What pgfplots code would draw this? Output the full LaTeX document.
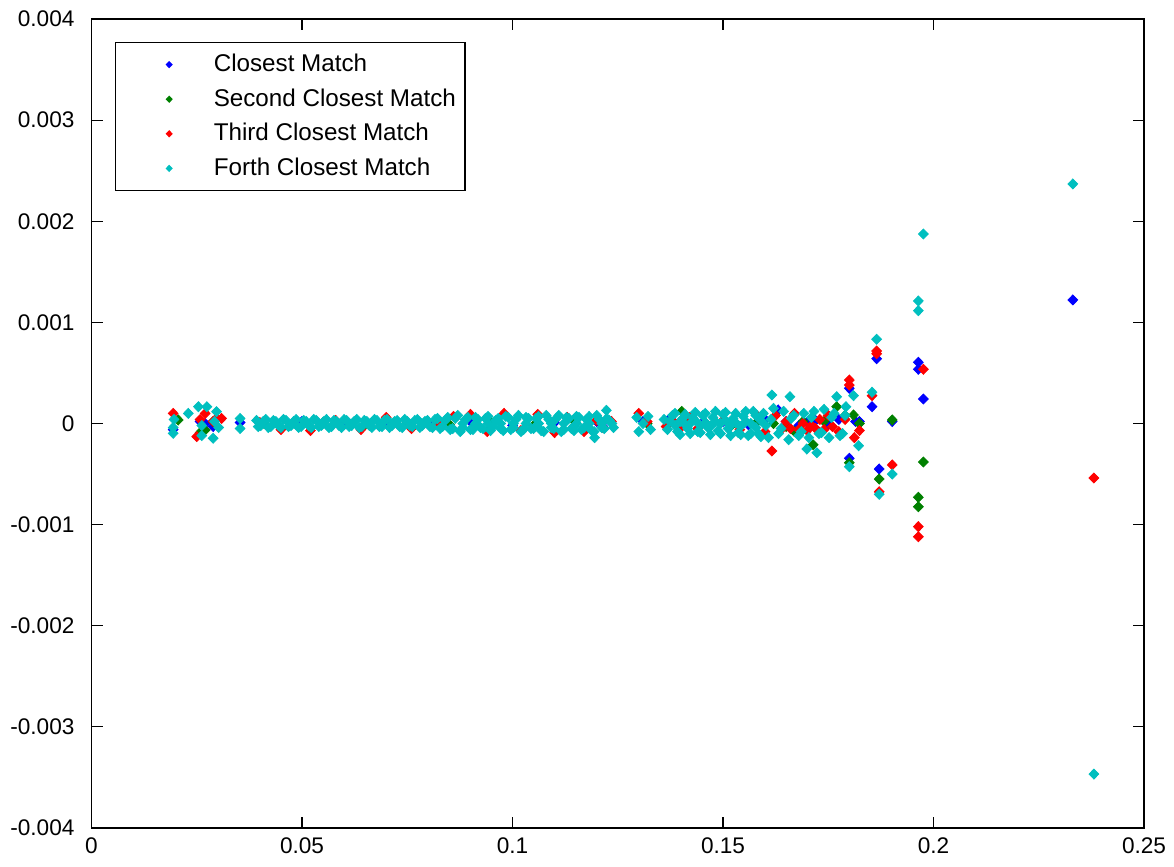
\documentclass[border=0pt]{standalone}
\usepackage{pgfplots}
\pgfplotsset{compat=1.18}
\usepackage{fontspec}
\setmainfont{Liberation Sans}
\definecolor{mblue}{rgb}{0,0,1}
\definecolor{mgreen}{rgb}{0,0.5,0}
\definecolor{mred}{rgb}{1,0,0}
\definecolor{mcyan}{rgb}{0,0.75,0.75}

\begin{document}
\begin{tikzpicture}
\useasboundingbox (-45.75pt,-19.5pt) rectangle (541.25pt,414pt);
\begin{axis}[
  at={(0,0)}, anchor=south west,
  width=526.25pt, height=404.5pt, scale only axis,
  xmin=0, xmax=0.25, ymin=-0.004, ymax=0.004,
  xtick={0,0.05,0.1,0.15,0.2,0.25},
  xticklabels={0,0.05,0.1,0.15,0.2,0.25},
  ytick={-0.004,-0.003,-0.002,-0.001,0,0.001,0.002,0.003,0.004},
  yticklabels={-0.004,-0.003,-0.002,-0.001,0,0.001,0.002,0.003,0.004},
  scaled ticks=false,
  /pgf/number format/assume math mode=true,
  tick align=inside, major tick length=5.5pt,
  axis line style={line width=0.6pt},
  every tick/.style={black, line width=0.6pt},
  ticklabel style={font=\fontsize{11.3}{13}\selectfont},
  xticklabel style={yshift=-1.5pt},
  yticklabel style={xshift=-5pt},
  every axis plot/.append style={only marks, mark=diamond*, mark size=2.5pt, mark options={xscale=1.3}},
  legend style={at={(axis description cs:0,1)}, anchor=north west,
    xshift=11.75pt, yshift=-11.5pt, draw=black, line width=0.6pt,
    inner xsep=4.5pt, inner ysep=5.5pt, row sep=6.3pt,
    font=\fontsize{12.1}{14}\selectfont,
    nodes={inner sep=0pt, text height=9pt, text depth=2pt, anchor=west}},
  legend cell align=left,
  legend image code/.code={\path (0pt,0pt) (44pt,0pt); \draw[#1, mark size=1.4pt] plot coordinates {(22pt,0pt)};},
]

% Closest Match
\addplot[color=mblue] coordinates {
(0.0194,-0.00006) (0.0258,0.00002) (0.0270,0.00000) (0.0289,-0.00003) (0.0353,0.00001)
(0.0400,0.00000) (0.0500,0.00002) (0.0600,-0.00001) (0.0700,0.00001) (0.0800,0.00000)
(0.0900,0.00002) (0.1000,-0.00002) (0.1100,0.00001) (0.1200,0.00002) (0.1215,-0.00003)
(0.1310,0.00002) (0.1370,0.000035) (0.1450,0.00000) (0.1500,0.00002) (0.1560,-0.00001)
(0.1600,0.00004) (0.1631,0.000134) (0.1650,0.00002) (0.1680,-0.00002) (0.1700,0.00001)
(0.1720,0.00003) (0.1750,-0.00001) (0.1775,0.00004) (0.1800,0.000348) (0.1800,-0.000344)
(0.1815,0.00002) (0.1824,0.00002)
(0.1854,0.000166) (0.1865,0.000641) (0.1871,-0.00045) (0.1902,0.00002)
(0.1964,0.000605) (0.1964,0.000536) (0.1976,0.000242) (0.2331,0.001222)
};
\addlegendentry{Closest Match}

% Second Closest Match
\addplot[color=mgreen] coordinates {
(0.0206,0.000035) (0.0270,-0.000064) (0.0289,0.00002) (0.0258,-0.00009)
(0.0410,0.00000) (0.0550,0.00001) (0.0650,-0.00001) (0.0750,0.00001) (0.0850,-0.00001)
(0.0950,0.00001) (0.1050,-0.00002) (0.1150,0.00001) (0.1210,0.00001)
(0.1320,0.00000) (0.1402,0.00012) (0.1420,0.00004) (0.1460,0.00000) (0.1520,-0.00002)
(0.1580,0.00001) (0.1620,0.00000) (0.1650,-0.00003) (0.1670,-0.00008) (0.1690,0.00002)
(0.1714,-0.00021) (0.1740,0.00002) (0.1770,0.000166) (0.1790,0.00008) (0.1800,-0.000388)
(0.1810,0.000084) (0.1824,0.00000)
(0.1871,-0.000549) (0.1902,0.000035) (0.1964,-0.00073) (0.1964,-0.000823) (0.1976,-0.000381)
};
\addlegendentry{Second Closest Match}

% Third Closest Match
\addplot[color=mred] coordinates {
(0.0194,0.0001) (0.0250,-0.00013) (0.0270,0.0001) (0.0297,0.00005) (0.0309,0.00005)
(0.0258,0.00004) (0.0289,0.00002)
(0.0400,0.00001) (0.0450,-0.00006) (0.0520,-0.00007) (0.0580,0.00003) (0.0640,-0.00006)
(0.0700,0.00006) (0.0760,-0.00005) (0.0820,0.00002) (0.0860,0.00007) (0.0900,0.00009)
(0.0940,-0.00008) (0.0980,0.00010) (0.1020,-0.00007) (0.1060,0.00009) (0.1100,-0.00009)
(0.1130,0.00006) (0.1170,-0.00008) (0.1200,0.00003) (0.1215,-0.00004) (0.1235,0.00002)
(0.1300,0.00010) (0.1320,0.00002) (0.1365,-0.00003) (0.1380,0.00003) (0.1400,-0.00004)
(0.1420,0.00006) (0.1440,-0.00005) (0.1500,0.00003) (0.1540,-0.00006) (0.1580,0.00008)
(0.1600,-0.00008) (0.1616,-0.000272) (0.1625,0.00008) (0.1640,-0.00005) (0.1650,0.00002)
(0.1660,-0.00005) (0.1670,0.00010) (0.1680,-0.00006) (0.1690,0.00000) (0.1700,-0.00007)
(0.1710,-0.00002) (0.1720,-0.00005) (0.1730,0.00004) (0.1740,-0.00006) (0.1750,0.00008)
(0.1760,-0.00003) (0.1775,-0.00008) (0.1790,0.00004) (0.1800,0.00043) (0.1800,0.00038)
(0.1824,-0.00007) (0.1812,-0.00014)
(0.1854,0.000275) (0.1865,0.000717) (0.1865,0.00069) (0.1871,-0.000675) (0.1902,-0.00041)
(0.1964,-0.00102) (0.1964,-0.00112) (0.1976,0.000536) (0.2381,-0.000539)
};
\addlegendentry{Third Closest Match}

% Forth Closest Match
\addplot[color=mcyan] coordinates {
(0.0194,-0.000097) (0.0194,-0.00004) (0.0196,0.00004) (0.0230,0.0001) (0.0254,0.000166)
(0.0274,0.000166) (0.0262,-0.00002) (0.0289,-0.000146) (0.0297,0.000117) (0.0292,0.00002)
(0.0302,-0.00004) (0.0262,-0.00012)
(0.0353,0.00005) (0.0353,-0.00005)
(0.0392,0.00003) (0.0402,-0.00002) (0.0414,0.00004) (0.0426,-0.00003) (0.0438,0.00002)
(0.0450,-0.00004) (0.0462,0.00003) (0.0474,-0.00002) (0.0486,0.00004) (0.0498,-0.00003)
(0.0510,0.00002) (0.0522,-0.00004) (0.0534,0.00003) (0.0546,-0.00002) (0.0558,0.00004)
(0.0570,-0.00003) (0.0582,0.00002) (0.0594,-0.00004) (0.0606,0.00003) (0.0618,-0.00002)
(0.0630,0.00004) (0.0642,-0.00003) (0.0654,0.00002) (0.0666,-0.00004) (0.0678,0.00003)
(0.0690,-0.00003) (0.0702,0.00004) (0.0714,-0.00002) (0.0726,0.00003) (0.0738,-0.00004)
(0.0750,0.00002) (0.0762,-0.00003) (0.0774,0.00004) (0.0786,-0.00002) (0.0798,0.00003)
(0.0810,-0.00004) (0.0822,0.00005) (0.0834,-0.00003) (0.0846,0.00006) (0.0858,-0.00005)
(0.0870,0.00008) (0.0882,-0.00004) (0.0894,0.00006) (0.0906,-0.00006) (0.0918,0.00004)
(0.0930,-0.00005) (0.0942,0.00007) (0.0954,-0.00003) (0.0966,0.00005) (0.0978,-0.00007)
(0.0990,0.00006) (0.1002,-0.00004) (0.1014,0.00008) (0.1026,-0.00006) (0.1038,0.00005)
(0.1050,-0.00005) (0.1062,0.00007) (0.1074,-0.00008) (0.1086,0.00004) (0.1098,-0.00005)
(0.1110,0.00008) (0.1122,-0.00006) (0.1134,0.00005) (0.1146,-0.00007) (0.1158,0.00006)
(0.1170,-0.00004) (0.1182,0.00007) (0.1194,-0.00008) (0.1206,0.00004) (0.1218,-0.00005)
(0.1223,0.00013) (0.1195,-0.00014) (0.1230,0.00003) (0.1240,-0.00004)
(0.0396,-0.00003) (0.0408,0.00002) (0.0420,-0.00004) (0.0432,0.00003) (0.0444,-0.00002)
(0.0456,0.00004) (0.0468,-0.00003) (0.0480,0.00002) (0.0492,-0.00004) (0.0504,0.00003)
(0.0516,-0.00002) (0.0528,0.00004) (0.0540,-0.00003) (0.0552,0.00002) (0.0564,-0.00004)
(0.0576,0.00003) (0.0588,-0.00002) (0.0600,0.00004) (0.0612,-0.00003) (0.0624,0.00002)
(0.0636,-0.00004) (0.0648,0.00003) (0.0660,-0.00002) (0.0672,0.00004) (0.0684,-0.00003)
(0.0696,0.00003) (0.0708,-0.00004) (0.0720,0.00002) (0.0732,-0.00003) (0.0744,0.00004)
(0.0756,-0.00002) (0.0768,0.00003) (0.0780,-0.00004) (0.0792,0.00002) (0.0804,-0.00003)
(0.0816,0.00004) (0.0828,-0.00005) (0.0840,0.00003) (0.0852,-0.00006) (0.0864,0.00005)
(0.0876,-0.00008) (0.0888,0.00004) (0.0900,-0.00006) (0.0912,0.00006) (0.0924,-0.00004)
(0.0936,0.00005) (0.0948,-0.00007) (0.0960,0.00003) (0.0972,-0.00005) (0.0984,0.00007)
(0.0996,-0.00006) (0.1008,0.00004) (0.1020,-0.00008) (0.1032,0.00006) (0.1044,-0.00005)
(0.1056,0.00005) (0.1068,-0.00007) (0.1080,0.00008) (0.1092,-0.00004) (0.1104,0.00005)
(0.1116,-0.00008) (0.1128,0.00006) (0.1140,-0.00005) (0.1152,0.00007) (0.1164,-0.00006)
(0.1176,0.00004) (0.1188,-0.00007) (0.1200,0.00008) (0.1212,-0.00004) (0.1224,0.00005)
(0.1236,0.00000)
(0.0882,0.00000) (0.0912,0.00000) (0.0942,0.00000) (0.0972,0.00000) (0.1002,0.00000)
(0.1032,0.00000) (0.1062,0.00000) (0.1092,0.00000) (0.1122,0.00000) (0.1152,0.00000)
(0.1182,0.00000) (0.1212,0.00000)
(0.1295,0.00006) (0.1300,-0.00008) (0.1310,0.00000) (0.1322,0.00007) (0.1328,-0.00006)
(0.1360,0.00004) (0.1368,-0.00006) (0.1380,0.00008) (0.1392,-0.00008) (0.1404,0.00005)
(0.1416,-0.00005) (0.1428,0.00006) (0.1440,-0.00008) (0.1452,0.00008) (0.1464,-0.00004)
(0.1476,0.00006) (0.1488,-0.00007) (0.1500,0.00009) (0.1512,-0.00005) (0.1524,0.00005)
(0.1536,-0.00009) (0.1548,0.00007) (0.1560,-0.00012) (0.1572,0.00012) (0.1584,-0.00010)
(0.1596,0.00010) (0.1608,-0.00014) (0.1616,0.000282) (0.1620,0.00015) (0.1632,-0.00010)
(0.1644,0.00012) (0.1656,-0.00016) (0.1659,0.000265) (0.1668,0.00008) (0.1680,-0.00012)
(0.1692,0.00010) (0.1699,-0.000252) (0.1704,-0.00014) (0.1716,0.00012) (0.1723,-0.000289)
(0.1728,-0.00010) (0.1740,0.00014) (0.1752,-0.00014) (0.1764,0.00010) (0.1770,0.000265)
(0.1778,-0.00012) (0.1790,0.00008) (0.1792,0.000166) (0.1800,-0.000427) (0.1810,0.000275)
(0.1822,-0.00022)
(0.1374,0.00002) (0.1386,-0.00002) (0.1398,0.00002) (0.1410,-0.00001) (0.1422,0.00000)
(0.1434,0.00003) (0.1446,-0.00002) (0.1458,0.00001) (0.1470,-0.00003) (0.1482,0.00002)
(0.1494,0.00000) (0.1506,0.00003) (0.1518,-0.00002) (0.1530,0.00001) (0.1542,-0.00003)
(0.1554,0.00002) (0.1566,0.00000) (0.1578,-0.00004) (0.1590,0.00003) (0.1602,-0.00002)
(0.1614,0.00004) (0.1638,-0.00005) (0.1662,0.00005) (0.1686,-0.00008) (0.1710,0.00006)
(0.1734,-0.00009) (0.1758,0.00006) (0.1784,-0.00010)
(0.1386,0.00010) (0.1398,-0.00011) (0.1410,0.00009) (0.1422,-0.00010) (0.1434,0.00011)
(0.1446,-0.00009) (0.1458,0.00010) (0.1470,-0.00011) (0.1482,0.00012) (0.1494,-0.00010)
(0.1506,0.00011) (0.1518,-0.00012) (0.1530,0.00010) (0.1542,-0.00011) (0.1554,0.00012)
(0.1566,-0.00010) (0.1578,0.00008) (0.1590,-0.00013)
(0.1854,0.000309) (0.1865,0.000833) (0.1871,-0.0007) (0.1902,-0.0005)
(0.1964,0.001212) (0.1964,0.001116) (0.1976,0.001874) (0.2331,0.002369) (0.2381,-0.003467)
};
\addlegendentry{Forth Closest Match}

\end{axis}
\end{tikzpicture}
\end{document}
